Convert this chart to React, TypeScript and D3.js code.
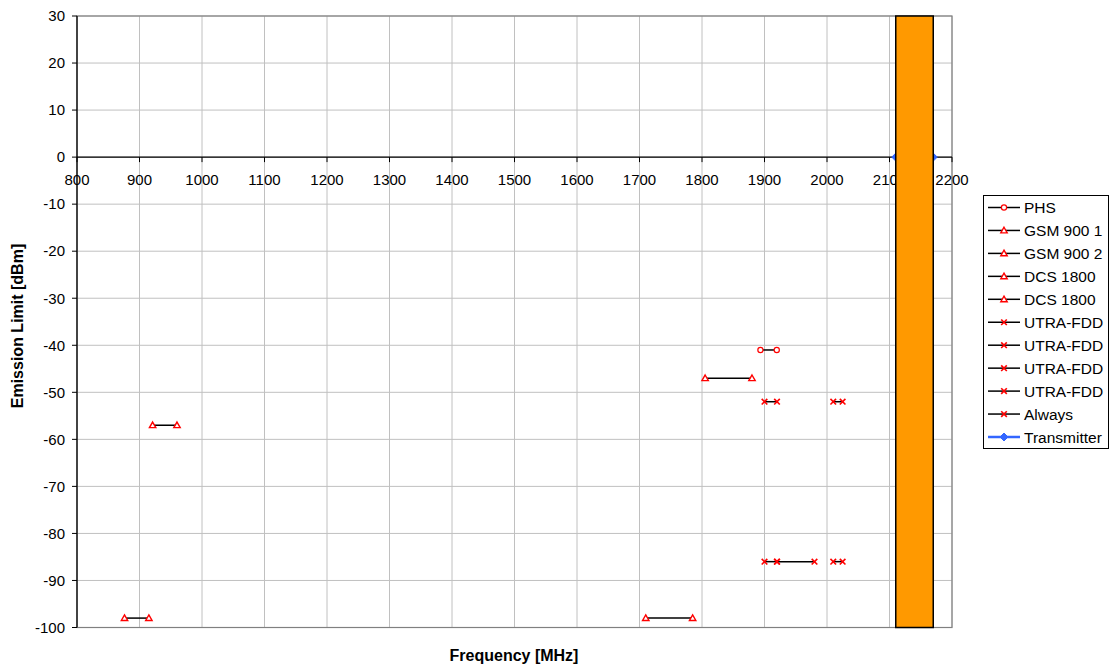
import React from "react";
import * as d3 from "d3";

// ---- data ----
const xTicks = [800, 900, 1000, 1100, 1200, 1300, 1400, 1500, 1600, 1700, 1800, 1900, 2000, 2100, 2200];
const yTicks = [30, 20, 10, 0, -10, -20, -30, -40, -50, -60, -70, -80, -90, -100];

const legendNames = ["PHS", "GSM 900 1", "GSM 900 2", "DCS 1800", "DCS 1800", "UTRA-FDD", "UTRA-FDD", "UTRA-FDD", "UTRA-FDD", "Always", "Transmitter"];
const legendMarkers = ["circle", "triangle", "triangle", "triangle", "triangle", "x", "x", "x", "x", "x", "diamond"];

const phsX = [1893.5, 1919.6];
const phsY = [-41, -41];
const gsm1X = [876, 915];
const gsm1Y = [-98, -98];
const gsm2X = [921, 960];
const gsm2Y = [-57, -57];
const dcs1X = [1805, 1880];
const dcs1Y = [-47, -47];
const dcs2X = [1710, 1785];
const dcs2Y = [-98, -98];
const utra1X = [1900, 1920];
const utra1Y = [-52, -52];
const utra2X = [2010, 2025];
const utra2Y = [-52, -52];
const utra3X = [1900, 1920];
const utra3Y = [-86, -86];
const utra4X = [2010, 2025];
const utra4Y = [-86, -86];
const alwaysX = [1920, 1980];
const alwaysY = [-86, -86];
const txX = [2110, 2170];
const txY = [0, 0];
const txBandY = [30, -100];

const segX = [phsX, gsm1X, gsm2X, dcs1X, dcs2X, utra1X, utra2X, utra3X, utra4X, alwaysX];
const segY = [phsY, gsm1Y, gsm2Y, dcs1Y, dcs2Y, utra1Y, utra2Y, utra3Y, utra4Y, alwaysY];

const W = 1110, H = 664;
const left = 77, right = 952, top = 16, bottom = 627.5;
const FONT = "'Liberation Sans', Arial, sans-serif";

function Marker({ type, x, y }: { type: string; x: number; y: number }) {
  const red = "#FF0000";
  if (type === "circle") return <circle cx={x} cy={y} r={2.6} fill="white" stroke={red} strokeWidth={1.2} />;
  if (type === "triangle") {
    const p = `${x},${y - 3.2} ${x + 3.2},${y + 2.4} ${x - 3.2},${y + 2.4}`;
    return <polygon points={p} fill="white" stroke={red} strokeWidth={1.4} />;
  }
  if (type === "x") {
    return (
      <g stroke={red} strokeWidth={1.6}>
        <line x1={x - 2.8} y1={y - 2.8} x2={x + 2.8} y2={y + 2.8} />
        <line x1={x - 2.8} y1={y + 2.8} x2={x + 2.8} y2={y - 2.8} />
      </g>
    );
  }
  if (type === "diamond") {
    const p = `${x},${y - 4} ${x + 4},${y} ${x},${y + 4} ${x - 4},${y}`;
    return <polygon points={p} fill="#3366FF" stroke="#3366FF" strokeWidth={1} />;
  }
  return null;
}

export default function App() {
  const xs = d3.scaleLinear().domain([800, 2200]).range([left, right]);
  const ys = d3.scaleLinear().domain([30, -100]).range([top, bottom]);
  const line = d3.line<[number, number]>().x((d) => xs(d[0])).y((d) => ys(d[1]));

  const legX = 983.5, legY = 195.5, legW = 125, legH = 253;
  const rowH = 22.95;

  return (
    <svg width={W} height={H} style={{ position: "absolute", left: 0, top: 0 }} fontFamily={FONT}>
      <rect x={0} y={0} width={W} height={H} fill="white" />
      {/* grid */}
      {xTicks.map((t) => (
        <line key={"gx" + t} x1={xs(t)} x2={xs(t)} y1={top} y2={bottom} stroke="#C0C0C0" strokeWidth={1} />
      ))}
      {yTicks.map((t) => (
        <line key={"gy" + t} x1={left} x2={right} y1={ys(t)} y2={ys(t)} stroke="#C0C0C0" strokeWidth={1} />
      ))}
      {/* plot border */}
      <rect x={left} y={top} width={right - left} height={bottom - top} fill="none" stroke="#808080" strokeWidth={1.2} />
      {/* y axis */}
      <line x1={left} x2={left} y1={top} y2={bottom} stroke="black" strokeWidth={1.2} />
      {yTicks.map((t) => (
        <g key={"yt" + t}>
          <line x1={left - 5} x2={left} y1={ys(t)} y2={ys(t)} stroke="black" strokeWidth={1} />
          <text x={65} y={ys(t) + 5.3} textAnchor="end" fontSize={15}>{String(t)}</text>
        </g>
      ))}
      {/* x axis at y=0 */}
      <line x1={left} x2={right} y1={ys(0)} y2={ys(0)} stroke="black" strokeWidth={1.2} />
      {xTicks.map((t) => (
        <g key={"xt" + t}>
          <line x1={xs(t)} x2={xs(t)} y1={ys(0)} y2={ys(0) + 5} stroke="black" strokeWidth={1} />
          <text x={xs(t)} y={ys(0) + 28} textAnchor="middle" fontSize={15}>{String(t)}</text>
        </g>
      ))}
      {/* segments */}
      {segX.map((xa, i) => {
        const pts = xa.map((x, j) => [x, segY[i][j]] as [number, number]);
        return (
          <g key={"s" + i}>
            <path d={line(pts) || ""} fill="none" stroke="black" strokeWidth={1.5} />
            {pts.map((p, j) => (
              <Marker key={j} type={legendMarkers[i]} x={xs(p[0])} y={ys(p[1])} />
            ))}
          </g>
        );
      })}
      {/* transmitter line */}
      <path d={line(txX.map((x, j) => [x, txY[j]] as [number, number])) || ""} fill="none" stroke="#3366FF" strokeWidth={2.5} />
      {txX.map((x, j) => (
        <Marker key={"tx" + j} type="diamond" x={xs(x)} y={ys(txY[j])} />
      ))}
      {/* transmitter band */}
      <rect x={xs(txX[0])} y={ys(txBandY[0])} width={xs(txX[1]) - xs(txX[0])} height={ys(txBandY[1]) - ys(txBandY[0])}
        fill="#FF9900" stroke="black" strokeWidth={1.5} />
      {/* axis titles */}
      <text x={514} y={660.5} textAnchor="middle" fontSize={16} fontWeight="bold">Frequency [MHz]</text>
      <text transform={`translate(23,326) rotate(-90)`} textAnchor="middle" fontSize={16} fontWeight="bold">Emission Limit [dBm]</text>
      {/* legend */}
      <rect x={legX} y={legY} width={legW} height={legH} fill="white" stroke="black" strokeWidth={1} />
      {legendNames.map((n, i) => {
        const cy = 207.5 + i * rowH;
        const isTx = legendMarkers[i] === "diamond";
        return (
          <g key={"lg" + i}>
            <line x1={988} x2={1020} y1={cy} y2={cy} stroke={isTx ? "#3366FF" : "black"} strokeWidth={isTx ? 2.5 : 1.5} />
            <Marker type={legendMarkers[i]} x={1004} y={cy} />
            <text x={1024} y={cy + 5.5} fontSize={15.5}>{n}</text>
          </g>
        );
      })}
    </svg>
  );
}
